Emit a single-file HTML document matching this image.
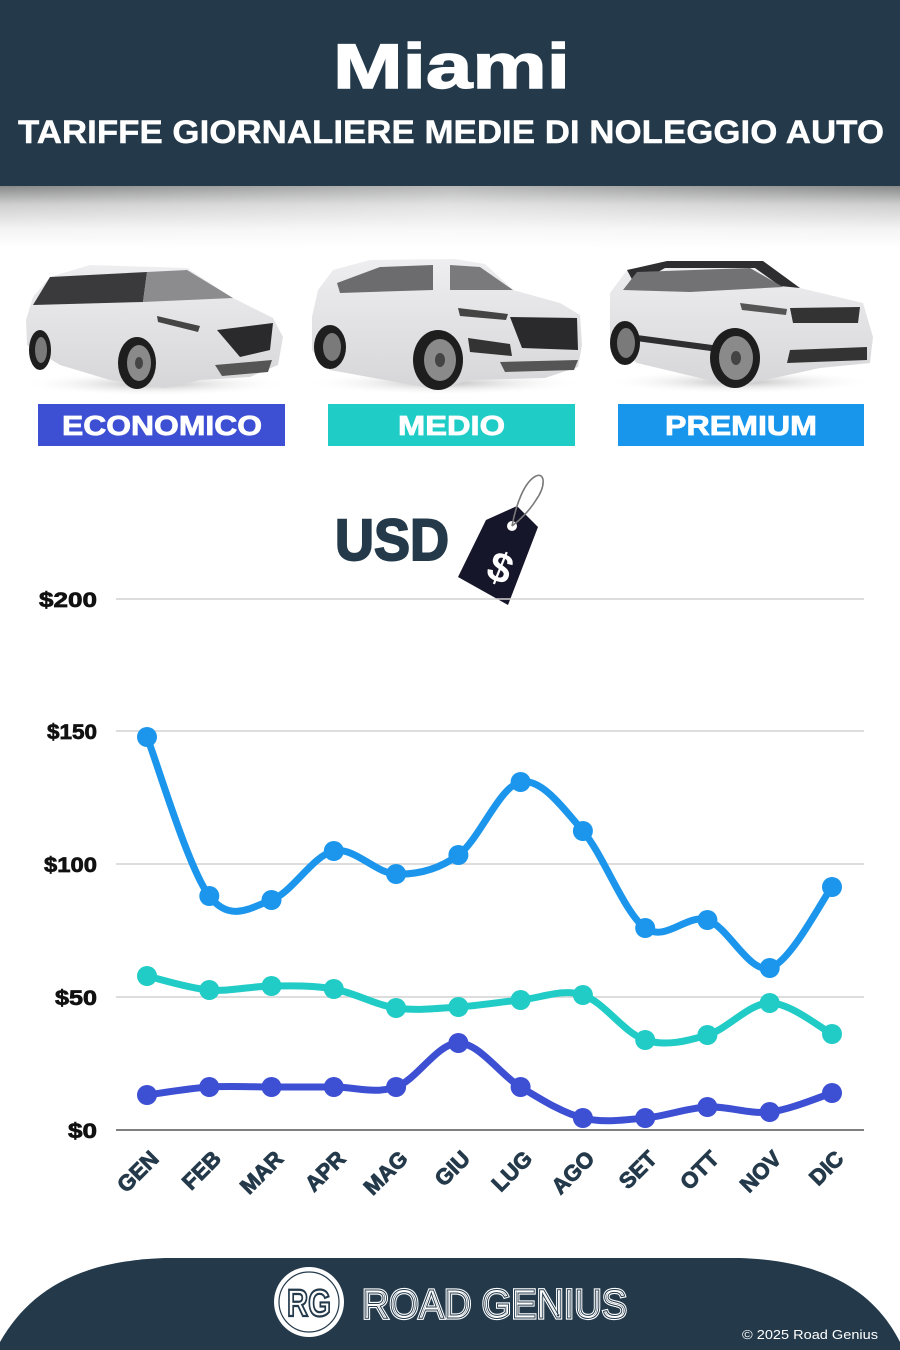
<!DOCTYPE html>
<html><head><meta charset="utf-8"><style>
html,body{margin:0;padding:0;background:#fff;}
svg{display:block;}
text{font-family:"Liberation Sans",sans-serif;}
</style></head><body>
<svg width="900" height="1350" viewBox="0 0 900 1350" xmlns="http://www.w3.org/2000/svg">
<defs>
<linearGradient id="sh" x1="0" y1="0" x2="0" y2="1">
<stop offset="0" stop-color="#888989"/>
<stop offset="0.3" stop-color="#cfcfcf"/>
<stop offset="0.7" stop-color="#f4f4f4"/>
<stop offset="1" stop-color="#ffffff"/>
</linearGradient>
<linearGradient id="shx" x1="0" y1="0" x2="1" y2="0">
<stop offset="0" stop-color="#fff" stop-opacity="0"/>
<stop offset="0.5" stop-color="#fff" stop-opacity="0.4"/>
<stop offset="1" stop-color="#fff" stop-opacity="0"/>
</linearGradient>
<radialGradient id="cs" cx="0.5" cy="0.5" r="0.5">
<stop offset="0" stop-color="#bdbdbd"/>
<stop offset="1" stop-color="#ffffff" stop-opacity="0"/>
</radialGradient>
<linearGradient id="body" x1="0" y1="0" x2="0" y2="1">
<stop offset="0" stop-color="#eeeef0"/>
<stop offset="1" stop-color="#d6d6d8"/>
</linearGradient>
</defs>

<!-- header -->
<rect x="0" y="0" width="900" height="186" fill="#243A4B"/>
<rect x="0" y="186" width="900" height="62" fill="url(#sh)"/>
<rect x="0" y="186" width="900" height="62" fill="url(#shx)"/>
<text x="333" y="88" font-size="63" font-weight="bold" fill="#fff" stroke="#fff" stroke-width="1.4" textLength="237" lengthAdjust="spacingAndGlyphs">Miami</text>
<text x="18" y="143" font-size="32" font-weight="bold" fill="#fff" stroke="#fff" stroke-width="0.4" textLength="866" lengthAdjust="spacingAndGlyphs">TARIFFE GIORNALIERE MEDIE DI NOLEGGIO AUTO</text>

<!-- car 1 -->
<ellipse cx="155" cy="384" rx="135" ry="12" fill="url(#cs)"/>
<polygon points="33,297 50,277 90,265 187,268 233,298 273,318 283,337 278,365 250,377 200,380 165,388 110,380 60,365 27,345 26,320" fill="url(#body)"/>
<polygon points="50,277 147,272 143,302 33,305" fill="#3a3a3c"/>
<polygon points="147,272 187,270 233,298 143,302" fill="#8c8c8e"/>
<polygon points="217,330 273,323 270,350 240,357" fill="#2a2a2c"/>
<polygon points="157,316 200,326 198,332 158,322" fill="#444"/>
<polygon points="215,365 272,360 268,372 222,376" fill="#555"/>
<ellipse cx="137" cy="363" rx="19" ry="26" fill="#1e1e1e"/>
<ellipse cx="139" cy="363" rx="12" ry="18" fill="#8a8a8a"/>
<ellipse cx="139" cy="363" rx="4" ry="6" fill="#444"/>
<ellipse cx="40" cy="350" rx="11" ry="20" fill="#1e1e1e"/>
<ellipse cx="41" cy="350" rx="6" ry="13" fill="#7a7a7a"/>

<!-- car 2 -->
<ellipse cx="445" cy="383" rx="140" ry="12" fill="url(#cs)"/>
<polygon points="312,317 318,290 333,270 370,260 455,259 485,264 513,290 560,303 580,315 582,345 578,367 545,378 470,380 440,390 330,370 312,350" fill="url(#body)"/>
<polygon points="337,283 380,267 433,265 433,290 340,293" fill="#6c6c6e"/>
<polygon points="450,265 480,267 513,290 450,290" fill="#7a7a7c"/>
<polygon points="510,317 577,318 578,350 522,348" fill="#2a2a2c"/>
<polygon points="468,338 510,344 512,356 470,352" fill="#333"/>
<polygon points="458,308 508,314 506,320 460,316" fill="#444"/>
<polygon points="500,362 578,360 574,370 505,372" fill="#555"/>
<ellipse cx="438" cy="360" rx="25" ry="30" fill="#1e1e1e"/>
<ellipse cx="440" cy="360" rx="16" ry="21" fill="#8a8a8a"/>
<ellipse cx="440" cy="360" rx="5" ry="7" fill="#444"/>
<ellipse cx="330" cy="347" rx="16" ry="22" fill="#1e1e1e"/>
<ellipse cx="332" cy="347" rx="9" ry="14" fill="#7a7a7a"/>

<!-- car 3 -->
<ellipse cx="740" cy="382" rx="135" ry="12" fill="url(#cs)"/>
<polygon points="610,293 627,270 667,262 763,262 800,288 863,303 873,337 870,363 820,368 733,387 700,378 637,363 610,340" fill="url(#body)"/>
<polygon points="627,270 667,261 763,261 800,288 780,286 755,268 665,268 635,285" fill="#2e2e30"/>
<polygon points="623,290 637,272 750,268 783,287 690,292" fill="#727274"/>
<polygon points="790,308 860,307 858,323 793,323" fill="#333"/>
<polygon points="790,350 867,347 867,360 787,363" fill="#333"/>
<polygon points="740,303 787,309 786,315 742,310" fill="#555"/>
<polygon points="637,335 750,350 748,356 636,341" fill="#2e2e30"/>
<ellipse cx="735" cy="358" rx="25" ry="30" fill="#1e1e1e"/>
<ellipse cx="736" cy="358" rx="17" ry="22" fill="#8a8a8a"/>
<ellipse cx="736" cy="358" rx="5" ry="7" fill="#444"/>
<ellipse cx="625" cy="343" rx="15" ry="22" fill="#1e1e1e"/>
<ellipse cx="626" cy="343" rx="9" ry="15" fill="#7a7a7a"/>

<!-- category labels -->
<rect x="38" y="404" width="247" height="42" fill="#3D4FD3"/>
<rect x="328" y="404" width="247" height="42" fill="#20CCC6"/>
<rect x="618" y="404" width="246" height="42" fill="#1896EC"/>
<text x="62" y="435" font-size="28" font-weight="bold" fill="#fff" stroke="#fff" stroke-width="0.8" textLength="200" lengthAdjust="spacingAndGlyphs">ECONOMICO</text>
<text x="398" y="435" font-size="28" font-weight="bold" fill="#fff" stroke="#fff" stroke-width="0.8" textLength="107" lengthAdjust="spacingAndGlyphs">MEDIO</text>
<text x="665" y="435" font-size="28" font-weight="bold" fill="#fff" stroke="#fff" stroke-width="0.8" textLength="152" lengthAdjust="spacingAndGlyphs">PREMIUM</text>

<!-- USD + tag -->
<text x="335" y="560" font-size="58" font-weight="bold" fill="#243A4B" stroke="#243A4B" stroke-width="2" textLength="114" lengthAdjust="spacingAndGlyphs">USD</text>
<polygon points="486,520 517,506 538,527 508,605 458,577" fill="#16162a"/>
<circle cx="512" cy="526" r="5" fill="#fff"/>
<path d="M512,526 C516,505 524,482 536,476 C545,472 546,486 536,500 C530,510 520,520 512,526" fill="none" stroke="#7a7a7a" stroke-width="1.6"/>
<text x="0" y="0" font-size="42" font-weight="bold" fill="#fff" text-anchor="middle" transform="translate(495,581) rotate(22)">$</text>

<!-- grid -->
<g stroke="#d2d2d2" stroke-width="1.4">
<line x1="116" y1="599" x2="864" y2="599"/>
<line x1="116" y1="731" x2="864" y2="731"/>
<line x1="116" y1="864" x2="864" y2="864"/>
<line x1="116" y1="997" x2="864" y2="997"/>
</g>
<line x1="116" y1="1130" x2="864" y2="1130" stroke="#555" stroke-width="1.5"/>

<!-- y labels -->
<g font-size="21" font-weight="bold" fill="#111" stroke="#111" stroke-width="0.7" text-anchor="end">
<text x="97" y="607" textLength="58" lengthAdjust="spacingAndGlyphs">$200</text>
<text x="97" y="739" textLength="50" lengthAdjust="spacingAndGlyphs">$150</text>
<text x="97" y="872" textLength="53" lengthAdjust="spacingAndGlyphs">$100</text>
<text x="97" y="1005" textLength="42" lengthAdjust="spacingAndGlyphs">$50</text>
<text x="97" y="1138" textLength="29" lengthAdjust="spacingAndGlyphs">$0</text>
</g>

<!-- series -->
<g fill="none" stroke-width="7" stroke-linecap="round" stroke-linejoin="round">
<path stroke="#1B96EC" d="M147,737 C157.4,763.5 188.5,868.8 209.3,896 C230.1,923.2 250.7,907.5 271.5,900 C292.3,892.5 313,855.3 333.8,851 C354.6,846.7 375.3,873.3 396.1,874 C416.9,874.7 437.6,870.3 458.4,855 C479.2,839.7 499.8,786 520.6,782 C541.4,778 562.1,806.7 582.9,831 C603.7,855.3 624.4,913.2 645.2,928 C666,942.8 686.6,913.3 707.4,920 C728.2,926.7 748.9,973.5 769.7,968 C790.5,962.5 821.6,900.5 832,887"/>
<path stroke="#22CCC6" d="M147,976 C157.4,978.3 188.5,988.3 209.3,990 C230.1,991.7 250.7,986.2 271.5,986 C292.3,985.8 313,985.3 333.8,989 C354.6,992.7 375.3,1005 396.1,1008 C416.9,1011 437.6,1008.3 458.4,1007 C479.2,1005.7 499.8,1002 520.6,1000 C541.4,998 562.1,988.3 582.9,995 C603.7,1001.7 624.4,1033.3 645.2,1040 C666,1046.7 686.6,1041.2 707.4,1035 C728.2,1028.8 748.9,1003.2 769.7,1003 C790.5,1002.8 821.6,1028.8 832,1034"/>
<path stroke="#3D4FD3" d="M147,1095 C157.4,1093.7 188.5,1088.3 209.3,1087 C230.1,1085.7 250.7,1087 271.5,1087 C292.3,1087 313,1087 333.8,1087 C354.6,1087 375.3,1094.3 396.1,1087 C416.9,1079.7 437.6,1043 458.4,1043 C479.2,1043 499.8,1074.5 520.6,1087 C541.4,1099.5 562.1,1112.8 582.9,1118 C603.7,1123.2 624.4,1119.8 645.2,1118 C666,1116.2 686.6,1108 707.4,1107 C728.2,1106 748.9,1114.3 769.7,1112 C790.5,1109.7 821.6,1096.2 832,1093"/>
</g>
<g fill="#1B96EC">
<circle cx="147" cy="737" r="10"/><circle cx="209.3" cy="896" r="10"/><circle cx="271.5" cy="900" r="10"/><circle cx="333.8" cy="851" r="10"/><circle cx="396.1" cy="874" r="10"/><circle cx="458.4" cy="855" r="10"/><circle cx="520.6" cy="782" r="10"/><circle cx="582.9" cy="831" r="10"/><circle cx="645.2" cy="928" r="10"/><circle cx="707.4" cy="920" r="10"/><circle cx="769.7" cy="968" r="10"/><circle cx="832" cy="887" r="10"/>
</g>
<g fill="#22CCC6">
<circle cx="147" cy="976" r="10"/><circle cx="209.3" cy="990" r="10"/><circle cx="271.5" cy="986" r="10"/><circle cx="333.8" cy="989" r="10"/><circle cx="396.1" cy="1008" r="10"/><circle cx="458.4" cy="1007" r="10"/><circle cx="520.6" cy="1000" r="10"/><circle cx="582.9" cy="995" r="10"/><circle cx="645.2" cy="1040" r="10"/><circle cx="707.4" cy="1035" r="10"/><circle cx="769.7" cy="1003" r="10"/><circle cx="832" cy="1034" r="10"/>
</g>
<g fill="#3D4FD3">
<circle cx="147" cy="1095" r="10"/><circle cx="209.3" cy="1087" r="10"/><circle cx="271.5" cy="1087" r="10"/><circle cx="333.8" cy="1087" r="10"/><circle cx="396.1" cy="1087" r="10"/><circle cx="458.4" cy="1043" r="10"/><circle cx="520.6" cy="1087" r="10"/><circle cx="582.9" cy="1118" r="10"/><circle cx="645.2" cy="1118" r="10"/><circle cx="707.4" cy="1107" r="10"/><circle cx="769.7" cy="1112" r="10"/><circle cx="832" cy="1093" r="10"/>
</g>

<!-- x labels -->
<g font-size="22" font-weight="bold" fill="#243A4B" stroke="#243A4B" stroke-width="0.9" text-anchor="end">
<text transform="translate(160,1160) rotate(-45)">GEN</text>
<text transform="translate(222.3,1160) rotate(-45)">FEB</text>
<text transform="translate(284.5,1160) rotate(-45)">MAR</text>
<text transform="translate(346.8,1160) rotate(-45)">APR</text>
<text transform="translate(409.1,1160) rotate(-45)">MAG</text>
<text transform="translate(471.4,1160) rotate(-45)">GIU</text>
<text transform="translate(533.6,1160) rotate(-45)">LUG</text>
<text transform="translate(595.9,1160) rotate(-45)">AGO</text>
<text transform="translate(658.2,1160) rotate(-45)">SET</text>
<text transform="translate(720.4,1160) rotate(-45)">OTT</text>
<text transform="translate(782.7,1160) rotate(-45)">NOV</text>
<text transform="translate(845,1160) rotate(-45)">DIC</text>
</g>

<!-- footer -->
<path d="M0,1350 L0,1342 C28,1293 75,1261 165,1258 L740,1258 C828,1261 875,1293 900,1342 L900,1350 Z" fill="#243A4B"/>
<circle cx="309" cy="1302" r="35" fill="#fff"/>
<circle cx="309" cy="1302" r="30" fill="none" stroke="#243A4B" stroke-width="1.2"/>
<text x="309" y="1316" font-size="38" font-weight="bold" fill="#fff" stroke="#243A4B" stroke-width="2.2" text-anchor="middle" textLength="44" lengthAdjust="spacingAndGlyphs">RG</text>
<text x="362" y="1318" font-size="41" fill="#243A4B" stroke="#fff" stroke-width="3.2" textLength="265" lengthAdjust="spacingAndGlyphs">ROAD GENIUS</text>
<text x="362" y="1318" font-size="41" fill="none" stroke="#243A4B" stroke-width="1" textLength="265" lengthAdjust="spacingAndGlyphs">ROAD GENIUS</text>
<text x="742" y="1339" font-size="13" fill="#fff" textLength="136" lengthAdjust="spacingAndGlyphs">© 2025 Road Genius</text>
</svg>
</body></html>
